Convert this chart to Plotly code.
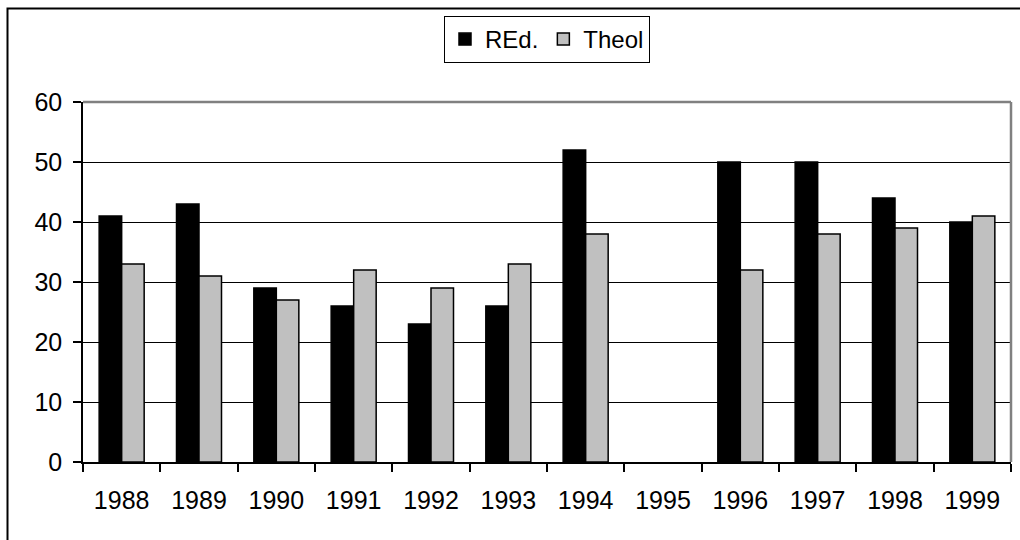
import plotly.graph_objects as go

# Yearly counts for the two groups (1995 has no data)
years = ["1988", "1989", "1990", "1991", "1992", "1993",
         "1994", "1995", "1996", "1997", "1998", "1999"]
red_values = [41, 43, 29, 26, 23, 26, 52, None, 50, 50, 44, 40]
theol_values = [33, 31, 27, 32, 29, 33, 38, None, 32, 38, 39, 41]

W, H = 1020, 540
ML, MR, MT, MB = 83, 9, 102, 78
PW, PH = W - ML - MR, H - MT - MB


def px_x(x):
    return (x - ML) / PW


def px_y(y):
    return (H - MB - y) / PH


FONT = "Liberation Sans, Arial, sans-serif"

fig = go.Figure()
fig.add_trace(go.Bar(
    name="REd.", x=years, y=red_values,
    marker=dict(color="#000000", line=dict(color="#000000", width=1.5)),
))
fig.add_trace(go.Bar(
    name="Theol", x=years, y=theol_values,
    marker=dict(color="#c0c0c0", line=dict(color="#000000", width=1.5)),
))

# Outer chart frame
fig.add_shape(type="rect", xref="paper", yref="paper",
              x0=px_x(7.5), x1=px_x(1030), y0=px_y(550), y1=px_y(8.5),
              line=dict(color="#000000", width=2), layer="below")
# Gray top and right plot-area edges
fig.add_shape(type="line", xref="paper", yref="paper",
              x0=0, x1=1, y0=1, y1=1, line=dict(color="#808080", width=2.5))
fig.add_shape(type="line", xref="paper", yref="paper",
              x0=1, x1=1, y0=0, y1=1, line=dict(color="#808080", width=2.5))

fig.update_layout(
    width=W, height=H,
    margin=dict(l=ML, r=MR, t=MT, b=MB, autoexpand=False),
    paper_bgcolor="#ffffff", plot_bgcolor="#ffffff",
    barmode="group", bargap=0.418, bargroupgap=0,
    font=dict(family=FONT, size=25, color="#000000"),
    legend=dict(
        orientation="h", x=0.5, xanchor="center",
        y=px_y(16), yanchor="top",
        bordercolor="#000000", borderwidth=1,
        font=dict(family=FONT, size=24, color="#000000"),
        traceorder="normal", itemwidth=30, tracegroupgap=0,
    ),
    showlegend=True,
)

fig.update_xaxes(
    type="category", showgrid=False, tickson="boundaries",
    ticks="outside", ticklen=8, tickcolor="#000000", tickwidth=1.5,
    showline=True, linecolor="#000000", linewidth=1.5,
    ticklabelstandoff=15, zeroline=False,
)
fig.update_yaxes(
    range=[0, 60], dtick=10, tick0=0,
    showgrid=True, gridcolor="#000000", gridwidth=1,
    ticks="outside", ticklen=8, tickcolor="#000000", tickwidth=1.5,
    showline=True, linecolor="#000000", linewidth=1.5,
    zeroline=False, ticklabelstandoff=6,
)

fig.write_html("out.html")
